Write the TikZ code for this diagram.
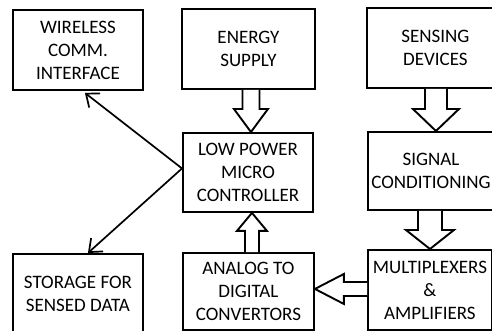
\documentclass[tikz,border=0pt]{standalone}
\usepackage{fontspec}
\setmainfont{Carlito}
\usetikzlibrary{calc,arrows.meta}
\tikzset{
  box/.style={draw, line width=1.9pt, rectangle, inner sep=0pt, anchor=north west,
    align=center, font=\fontsize{19}{23}\selectfont},
  blk/.style={draw, line width=1.9pt, fill=white, line join=miter},
  conn/.style={line width=1.7pt, -{Straight Barb[length=11pt,width=18pt,line width=1.7pt]}},
}
% vertical block arrow: #1 tip, #2 tail anchor, #3 shaft half width, #4 head half width, #5 signed head length
\newcommand\blkv[5]{%
  \draw[blk] ($(#1 |- #2)+(-#3,0)$) -- ($(#1)+(-#3,#5)$) -- ($(#1)+(-#4,#5)$) -- (#1)
    -- ($(#1)+(#4,#5)$) -- ($(#1)+(#3,#5)$) -- ($(#1 |- #2)+(#3,0)$);}
% horizontal block arrow
\newcommand\blkh[5]{%
  \draw[blk] ($(#1 -| #2)+(0,-#3)$) -- ($(#1)+(#5,-#3)$) -- ($(#1)+(#5,-#4)$) -- (#1)
    -- ($(#1)+(#5,#4)$) -- ($(#1)+(#5,#3)$) -- ($(#1 -| #2)+(0,#3)$);}
\begin{document}
\begin{tikzpicture}[x=1pt,y=-1pt]
\useasboundingbox (0,0) rectangle (492,331);
\clip (0,0) rectangle (492,331);
\fill[white] (0,0) rectangle (492,331);

\node[box, minimum width=130pt, minimum height=80pt] (w) at (12,9) {WIRELESS\\COMM.\\INTERFACE};
\node[box, minimum width=133pt, minimum height=80pt] (e) at (181,8) {ENERGY\\SUPPLY};
\node[box, minimum width=137pt, minimum height=80pt] (sd) at (366,7) {SENSING\\DEVICES};
\node[box, minimum width=130pt, minimum height=79pt] (lp) at (182,132) {LOW POWER\\MICRO\\CONTROLLER};
\node[box, minimum width=126pt, minimum height=78pt] (sc) at (367,131) {SIGNAL\\CONDITIONING};
\node[box, minimum width=130pt, minimum height=80pt] (st) at (12,253) {STORAGE FOR\\SENSED DATA};
\node[box, minimum width=131pt, minimum height=77pt] (adc) at (182,252) {ANALOG TO\\DIGITAL\\CONVERTORS};
\node[box, minimum width=124pt, minimum height=80pt] (mux) at (367,249) {MULTIPLEXERS\\\&\\AMPLIFIERS};

% block arrows
\coordinate (t1) at ($(lp.north)+(3,0)$);
\blkv{t1}{e.south}{8.5}{17}{-23}
\coordinate (t2) at ($(sc.north)+(5,0)$);
\blkv{t2}{sd.south}{11}{23}{-22}
\coordinate (t3) at ($(mux.north)+(0,0)$);
\blkv{t3}{sc.south}{12}{24}{-19}
\coordinate (t4) at ($(lp.south)+(4,0)$);
\blkv{t4}{adc.north}{7}{15}{18}
\coordinate (t5) at ($(adc.east)+(0,-2.5)$);
\blkh{t5}{mux.west}{7}{15}{29}

% line connectors
\coordinate (j) at ($(lp.west)+(0,-4)$);
\draw[conn] (j) -- ($(w.south)+(7,2)$);
\draw[conn] (j) -- ($(st.north)+(10,0)$);
\end{tikzpicture}
\end{document}
